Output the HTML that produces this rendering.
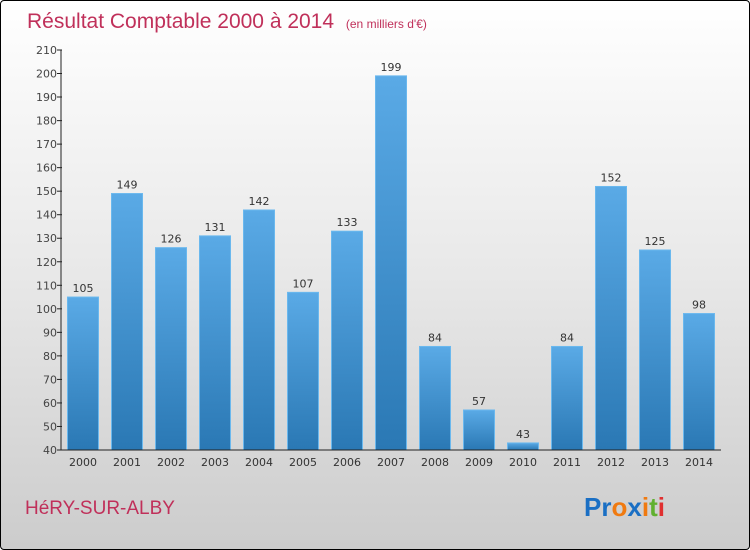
<!DOCTYPE html>
<html><head><meta charset="utf-8"><style>
body{margin:0}
#c{position:relative;width:748px;height:548px;border:1px solid #000;border-radius:4px;background:linear-gradient(#ffffff,#e8e8e8 50%,#cccccc);overflow:hidden;font-family:"DejaVu Sans","Liberation Sans",sans-serif}
</style></head><body>
<div id="c">
<svg width="748" height="548" id="svg">
<defs><linearGradient id="bg" x1="0" y1="0" x2="0" y2="1"><stop offset="0" stop-color="#5aaae6"/><stop offset="1" stop-color="#2a78b4"/></linearGradient></defs>
<text x="26" y="27" font-size="21" fill="#c0305a" font-family="Liberation Sans, sans-serif">Résultat Comptable 2000 à 2014 <tspan font-size="12" dx="6">(en milliers d'€)</tspan></text>
<text x="24" y="513" font-size="19" fill="#c0305a" font-family="Liberation Sans, sans-serif">HéRY-SUR-ALBY</text>
<text x="583" y="515" font-size="26" font-weight="bold" font-family="Liberation Sans, sans-serif"><tspan fill="#1a6fc4">Pr</tspan><tspan fill="#f07a10">o</tspan><tspan fill="#1a6fc4">x</tspan><tspan fill="#f07a10">i</tspan><tspan fill="#60b030">t</tspan><tspan fill="#e03030">i</tspan></text>
<g id="g"></g>
</svg></div>
<script>
const categories=["2000","2001","2002","2003","2004","2005","2006","2007","2008","2009","2010","2011","2012","2013","2014"];
const values=[105,149,126,131,142,107,133,199,84,57,43,84,152,125,98];
const yTicks=[40,50,60,70,80,90,100,110,120,130,140,150,160,170,180,190,200,210];
const NS="http://www.w3.org/2000/svg";
const g=document.getElementById('g');
const x0=60,slot=44,yMin=40,yMax=210,yTop=49,yBot=449;
const y=v=>yBot-(v-yMin)/(yMax-yMin)*(yBot-yTop);
function mk(t,a,p){const e=document.createElementNS(NS,t);for(const k in a)e.setAttribute(k,a[k]);(p||g).appendChild(e);return e;}
yTicks.forEach(t=>{
const l=mk('line',{x1:x0-4,x2:x0+1,y1:y(t),y2:y(t),stroke:'#222'});


const tx=mk('text',{x:x0-4,y:y(t)+4,'text-anchor':'end','font-size':11,fill:'#444'});
tx.textContent=t;


});
categories.forEach((c,i)=>{
const cx=x0+slot*i+slot/2;
const r=mk('rect',{x:cx-15.5,y:y(values[i]),width:31,height:yBot-y(values[i]),fill:'url(#bg)',stroke:'#6ab8ee','stroke-width':1});


const v=mk('text',{x:cx,y:y(values[i])-5,'text-anchor':'middle','font-size':11,fill:'#333'});
v.textContent=values[i];


const xl=mk('text',{x:cx,y:yBot+16,'text-anchor':'middle','font-size':11,fill:'#333'});
xl.textContent=c;


});
const ya=mk('line',{x1:x0,x2:x0,y1:yTop,y2:yBot,stroke:'#222'});


const xa=mk('line',{x1:x0,x2:x0+slot*15,y1:yBot,y2:yBot,stroke:'#222'});


</script>
</body></html>
